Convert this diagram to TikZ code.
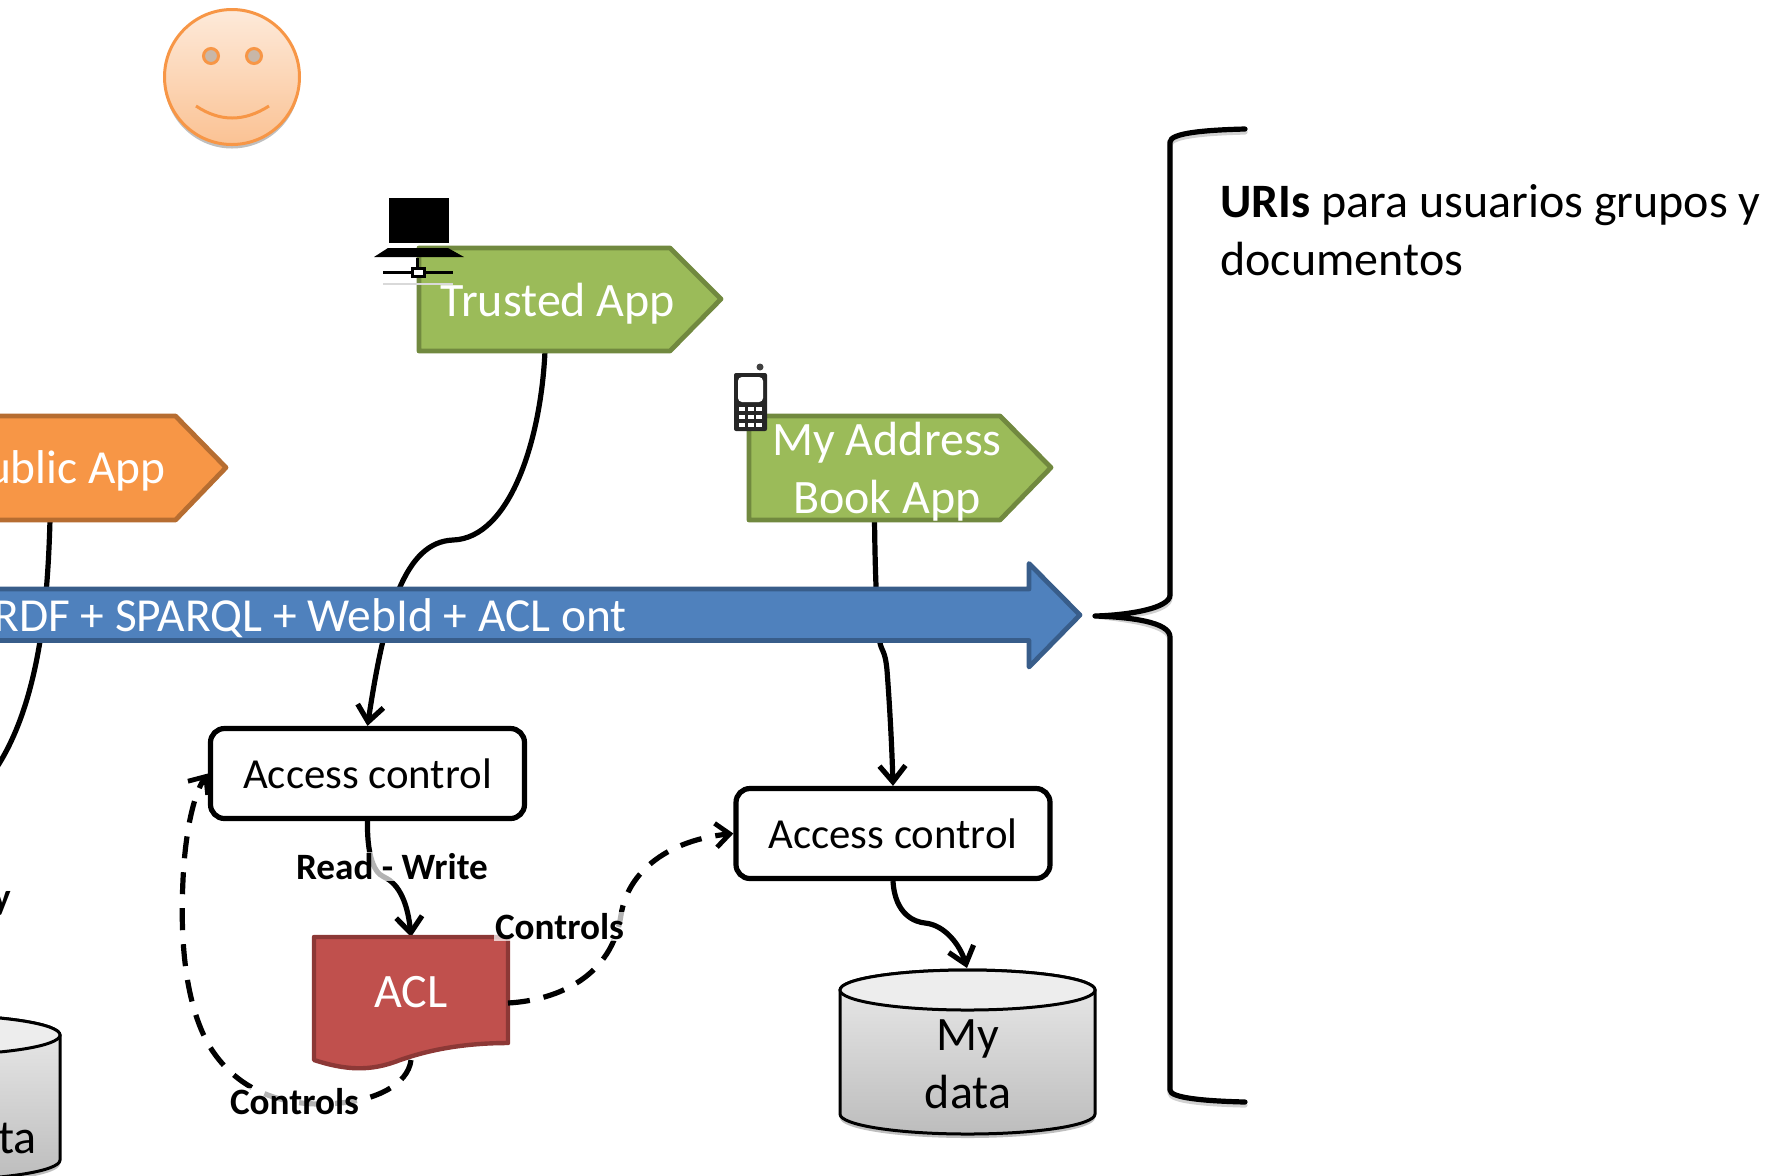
\documentclass[tikz,border=0pt]{standalone}
\usepackage{fontspec}
\setmainfont{Carlito}
\usetikzlibrary{arrows.meta,shadows,shapes.geometric}
\definecolor{gfill}{HTML}{9BBB59}\definecolor{gline}{HTML}{71893F}
\definecolor{ofill}{HTML}{F79646}\definecolor{oline}{HTML}{B66D31}
\definecolor{bfill}{HTML}{4F81BD}\definecolor{bline}{HTML}{385D8A}
\definecolor{rfill}{HTML}{C0504D}\definecolor{rline}{HTML}{8C3836}
\tikzset{
  softshadow/.style={drop shadow={shadow xshift=0pt,shadow yshift=-2pt,opacity=.25,fill=black}},
  appshape/.style={line width=2.4pt,line join=round},
  apptext/.style={text=white,font=\fontsize{24}{29}\selectfont,align=center,inner sep=0pt},
  acbox/.style={draw=black,line width=2.6pt,rounded corners=7pt,fill=white,minimum width=157pt,minimum height=45pt,inner sep=0pt,font=\fontsize{21.4}{24}\selectfont},
  conn/.style={line width=2.6pt,-{Straight Barb[length=8pt,width=13pt,line width=2.6pt]},black},
  dconn/.style={line width=2.6pt,-{Straight Barb[length=7pt,width=12pt,line width=2.4pt]},black,dash pattern=on 11pt off 7pt},
  plain/.style={line width=2.6pt,black},
  lbl/.style={font=\bfseries\fontsize{18.6}{22}\selectfont,inner sep=0.5pt,fill=white,fill opacity=.7,text opacity=1},
  cyl/.style={draw=black,line width=1.5pt,top color=white!92!black,bottom color=black!26},
  cyltop/.style={draw=black,line width=1.5pt,fill=black!7},
  cyltext/.style={font=\fontsize{24}{29}\selectfont,inner sep=0pt,align=center},
  bracepath/.style={line width=2.6pt,line cap=round,line join=round}
}
\begin{document}
\begin{tikzpicture}[x=0.5pt,y=-0.5pt]
\useasboundingbox (0,0) rectangle (1776,1175);
\clip (0,0) rectangle (1776,1175);
% smiley
\path[softshadow,draw=ofill,line width=1.5pt,top color=ofill!20,bottom color=ofill!58] (232,77) circle[radius=67.5];
\draw[ofill,line width=1.5pt,fill=ofill!30!gray!60] (211,56) circle[radius=7.5] (254,56) circle[radius=7.5];
\draw[ofill,line width=1.5pt] (196,106) .. controls (220,122) and (244,122) .. (269,106);
% named ends on shapes
\coordinate (trustedOut) at (545,351);
\coordinate (publicOut) at (50,520);
\coordinate (bookOut) at (874.5,520);
% boxes
\node[acbox] (acOne) at (367.5,773.5) {Access control};
\node[acbox] (acTwo) at (893,833.5) {Access control};
% connectors passing behind the arrow
\draw[conn] (trustedOut) .. controls (541,440) and (510,538) .. (453,540) .. controls (405,542) and (385,610) .. (acOne.north);
\draw[plain] (publicOut) .. controls (48,590) and (42,700) .. (-5,770);
\draw[conn] (bookOut) .. controls (875,560) and (876,610) .. (880,643) .. controls (882,652) and (885,650) .. (887,670) .. controls (890,710) and (892,750) .. (acTwo.north);
% blue arrow
\draw[bline,fill=bfill,line width=2.4pt,line join=round] (-20,589) -- (1029,589) -- (1029,563.5) -- (1080,615) -- (1029,667) -- (1029,640.5) -- (-20,640.5) -- cycle;
\node[apptext,anchor=east,font=\fontsize{23.7}{29}\selectfont] (stack) at (627,618) {RDF + SPARQL + WebId + ACL ont};
% apps
\draw[appshape,draw=gline,fill=gfill] (419,248) -- (670,248) -- (721,299) -- (670,351) -- (419,351) -- cycle;
\node[apptext] (trusted) at (558,303.5) {Trusted App};
\draw[appshape,draw=oline,fill=ofill] (-20,416) -- (175.5,416) -- (226,467.5) -- (175.5,520) -- (-20,520) -- cycle;
\node[apptext,anchor=east,font=\fontsize{23.7}{29}\selectfont] (public) at (166,471) {Public App};
\draw[appshape,draw=gline,fill=gfill] (749,416) -- (1000,416) -- (1051,467.5) -- (1000,520) -- (749,520) -- cycle;
\node[apptext] (book) at (887,472) {My Address\\Book App};
% laptop
\fill[black] (389,198) rectangle (449,243);
\fill[black] (374,257) -- (464,257) -- (448,248) -- (388,248) -- cycle;
\fill[black!15] (383,282.5) rectangle (453,285);
\draw[black,line width=1.7pt] (417.7,258) -- (417.7,269) (383,272.7) -- (453,272.7);
\draw[black,line width=1.5pt,fill=white] (412,268.5) rectangle (424,276.5);
% phone
\fill[black!85,rounded corners=1pt] (734,373) rectangle (767,431);
\fill[white,rounded corners=2pt] (738,377) rectangle (763,402);
\fill[black!75] (760,367) circle[radius=3.5];
\foreach \kx in {742,751,759}{\foreach \ky in {409,417,425}{\fill[white] (\kx-2.6,\ky-2.4) rectangle (\kx+2.6,\ky+2.4);}}
% read-write
\coordinate (aclIn) at (411,937);
\draw[conn] (acOne.south) .. controls (367,850) and (372,872) .. (384,877) .. controls (400,884) and (408,905) .. (aclIn);
% acl
\draw[draw=rline,fill=rfill,line width=2.2pt,line join=round] (314,937) -- (508,937) -- (508,1043) .. controls (450,1043) and (415,1055) .. (400,1060) .. controls (370,1072) and (345,1070) .. (314,1060) -- cycle;
\node[apptext] (acl) at (411,992) {ACL};
\coordinate (aclRight) at (508,1003);
\coordinate (aclBottom) at (411,1060);
\draw[dconn] (aclRight) .. controls (560,1000) and (612,975) .. (621,915) .. controls (628,870) and (670,840) .. (acTwo.west);
\draw[dconn] (aclBottom) .. controls (408,1085) and (375,1100) .. (340,1103) .. controls (290,1108) and (240,1095) .. (210,1047) .. controls (185,1005) and (180,940) .. (183,880) .. controls (185,835) and (193,795) .. (acOne.west);
% cylinders
\path[softshadow,cyl] (840,990) -- (840,1114) arc[start angle=180,end angle=0,x radius=127.5,y radius=20] -- (1095,990) arc[start angle=0,end angle=-180,x radius=127.5,y radius=20] -- cycle;
\draw[cyltop] (967.5,990) ellipse[x radius=127.5,y radius=20];
\node[cyltext] (mydata) at (968,1064) {My\\data};
\path[softshadow,cyl] (-195,1035) -- (-195,1160) arc[start angle=180,end angle=0,x radius=127.5,y radius=20] -- (60,1035) arc[start angle=0,end angle=-180,x radius=127.5,y radius=20] -- cycle;
\draw[cyltop] (-67.5,1035) ellipse[x radius=127.5,y radius=20];
\node[cyltext,anchor=east] (pubdata) at (37,1137) {Public data};
\coordinate (myIn) at (967,968);
\draw[conn] (acTwo.south) .. controls (895,915) and (915,922) .. (925,923) .. controls (945,925) and (960,945) .. (myIn);
% labels
\node[lbl] (rw) at (392,866.5) {Read - Write};
\node[lbl] (ctrlA) at (559.5,926.5) {Controls};
\node[lbl] (ctrlB) at (294.5,1102) {Controls};
\node[lbl,anchor=east] (ronly) at (12,899) {Read only};
% brace
\coordinate (braceTip) at (1095,616);
\foreach \sy/\col in {3/black!18,0/black}{
\draw[bracepath,draw=\col,yshift=-\sy*0.5pt] (1245,129) .. controls (1205,130) and (1170,133) .. (1170,142) -- (1170,595) .. controls (1170,608) and (1130,615) .. (braceTip) .. controls (1130,617) and (1170,622) .. (1170,637) -- (1170,1090) .. controls (1170,1098) and (1205,1101) .. (1245,1102);
}
% text
\node[anchor=west,inner sep=0pt,align=left,font=\fontsize{24}{29}\selectfont] (uris) at (1220,230) {\textbf{URIs} para usuarios grupos y\\documentos};
\end{tikzpicture}
\end{document}
